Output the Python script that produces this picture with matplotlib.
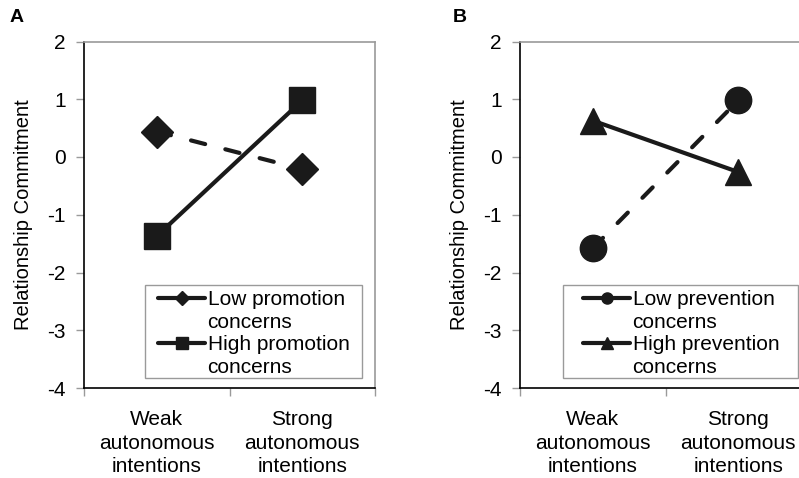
import matplotlib
matplotlib.use("Agg")
import matplotlib.pyplot as plt
from matplotlib.lines import Line2D
from matplotlib.patches import Rectangle

plt.rcParams['font.family'] = ['Liberation Sans', 'DejaVu Sans']

categories = ["Weak\nautonomous\nintentions", "Strong\nautonomous\nintentions"]
yticks = [2, 1, 0, -1, -2, -3, -4]

low_promotion = [0.44, -0.21]
high_promotion = [-1.37, 0.98]
low_prevention = [-1.58, 0.98]
high_prevention = [0.63, -0.26]

labels_A = ["Low promotion", "concerns", "High promotion", "concerns"]
labels_B = ["Low prevention", "concerns", "High prevention", "concerns"]

W, H = 799, 478
fig = plt.figure(figsize=(W / 100, H / 100), dpi=100)

AX_W_PX = 291
AX_B_PX = 388
AX_T_PX = 41.5
AX_H_PX = AX_B_PX - AX_T_PX
axA = fig.add_axes([84 / W, 1 - AX_B_PX / H, AX_W_PX / W, AX_H_PX / H])
axB = fig.add_axes([520 / W, 1 - AX_B_PX / H, AX_W_PX / W, AX_H_PX / H])

xpos = [0.5, 1.5]
GRAY = '#9a9a9a'
INK = '#1a1a1a'
DASH = (3.5, 5.0)


def style(ax):
    ax.set_xlim(0, 2)
    ax.set_ylim(-4, 2)
    ax.set_yticks(yticks)
    ax.set_yticklabels([str(v) for v in yticks])
    ax.set_xticks([0, 1, 2])
    ax.set_xticklabels([])
    ax.set_xticks(xpos, minor=True)
    ax.set_xticklabels(categories, minor=True, fontsize=15, linespacing=1.3)
    ax.tick_params(axis='x', which='minor', length=0, pad=16)
    ax.tick_params(axis='x', which='major', length=6, color=GRAY, width=1)
    ax.tick_params(axis='y', length=6, color=GRAY, width=1, labelsize=15, pad=7)
    for s in ['left', 'bottom']:
        ax.spines[s].set_color('black')
        ax.spines[s].set_linewidth(1.2)
    for s in ['top', 'right']:
        ax.spines[s].set_color(GRAY)
        ax.spines[s].set_linewidth(1.2)
    ax.set_ylabel("Relationship Commitment", fontsize=14.5)
    ax.yaxis.set_label_coords(-0.175, 0.5)


def legend(ax, ax_left_px, labels, m1, m2, ms1, ms2, box_px, handle_x_px):
    # box_px: (left, top, right, bottom) in figure pixel coords
    l, t, r, b = box_px
    fx = lambda px: (px - ax_left_px) / AX_W_PX
    fy = lambda py: (AX_B_PX - py) / AX_H_PX
    rect = Rectangle((fx(l), fy(b)), fx(r) - fx(l), fy(t) - fy(b), transform=ax.transAxes,
                     facecolor='white', edgecolor=GRAY, linewidth=1, zorder=4, clip_on=False)
    ax.add_patch(rect)
    handles = [
        Line2D([], [], color=INK, lw=3, marker=m1, markersize=ms1, solid_capstyle='round'),
        Line2D([], [], color='none'),
        Line2D([], [], color=INK, lw=3, marker=m2, markersize=ms2, solid_capstyle='round'),
        Line2D([], [], color='none'),
    ]
    leg = ax.legend(handles, labels, loc='upper left',
                    bbox_to_anchor=(fx(handle_x_px), fy(t + 5)),
                    borderaxespad=0, fontsize=15, frameon=False,
                    handlelength=2.26, handletextpad=0.12,
                    labelspacing=0.18, borderpad=0)
    leg.set_zorder(5)


style(axA)
axA.plot(xpos, low_promotion, color=INK, lw=3, dashes=DASH, dash_capstyle='round',
         marker='D', markersize=16, zorder=3)
axA.plot(xpos, high_promotion, color=INK, lw=3,
         marker='s', markersize=19, zorder=3)
legend(axA, 84, labels_A, 'D', 's', 7, 8, (145, 285, 362, 378), 158)

style(axB)
axB.plot(xpos, low_prevention, color=INK, lw=3, dashes=DASH, dash_capstyle='round',
         marker='o', markersize=19, zorder=3)
axB.plot(xpos, high_prevention, color=INK, lw=3,
         marker='^', markersize=19, zorder=3)
legend(axB, 520, labels_B, 'o', '^', 8, 9, (563, 285, 798, 378), 583)

fig.text(17 / W, 1 - 18 / H, "A", fontsize=14, fontweight='bold', ha='center', va='center')
fig.text(460 / W, 1 - 18 / H, "B", fontsize=14, fontweight='bold', ha='center', va='center')

fig.savefig("out.png", dpi=100)
